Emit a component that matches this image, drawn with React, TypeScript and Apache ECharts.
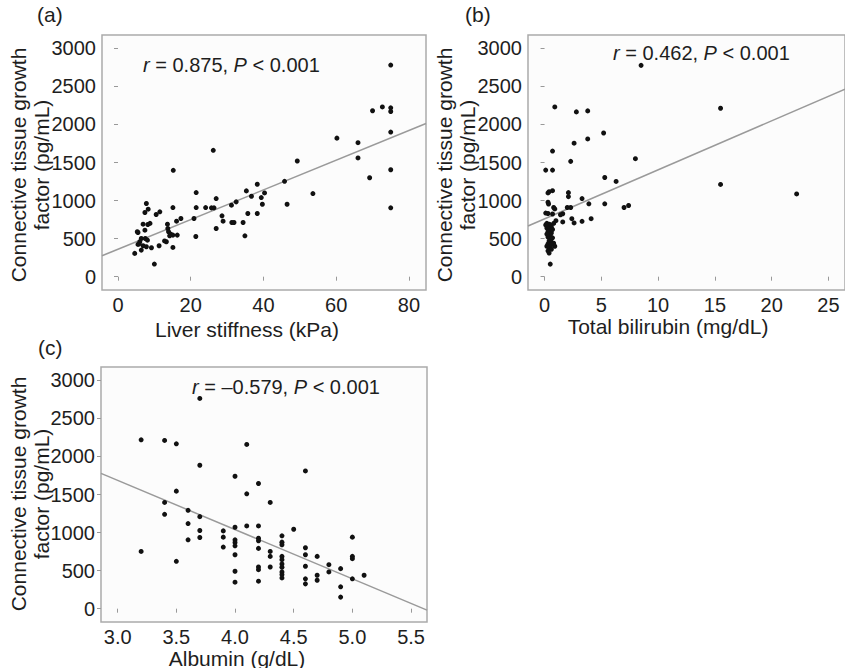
import React, { useEffect, useRef } from "react";
import * as echarts from "echarts";

// Panel (a): Liver stiffness (kPa) vs CTGF (pg/mL)
const liverStiffness: [number, number][] = [
  [75, 2780], [70, 2180], [72.7, 2230], [75, 2218], [75, 2170], [75, 1900], [60.2, 1820], [66, 1760],
  [66, 1560], [49.3, 1520], [69.2, 1300], [75, 1405], [75, 905], [26.2, 1660], [15.2, 1397], [45.8, 1253],
  [53.6, 1092], [46.5, 952], [38.3, 1214], [35.3, 1127], [36.7, 1057], [40.3, 1100], [39.4, 1039], [39.7, 952],
  [35.7, 830], [38.3, 830], [32.5, 983], [31.2, 939], [21.5, 1105], [21.5, 908], [24.1, 908], [25.7, 904],
  [26.4, 904], [27, 1026], [28.6, 799], [28.9, 729], [27, 633], [31.3, 712], [31.9, 712], [34.4, 712],
  [34.9, 537], [20.9, 764], [21.4, 528], [17.3, 764], [16.1, 729], [15.1, 908], [15.1, 384], [15.1, 546],
  [16.3, 546], [13.7, 633], [13.6, 690], [13.9, 590], [14.2, 537], [13.3, 459], [11.5, 852], [10.5, 817],
  [8.3, 887], [7.8, 961], [7.4, 843], [6.9, 690], [8.2, 686], [7.4, 611], [5.3, 590], [5.5, 580],
  [6.4, 502], [7.5, 502], [8.1, 480], [6.0, 459], [5.5, 424], [6.9, 406], [7.8, 393], [9.2, 380],
  [6.4, 349], [4.6, 306], [11.3, 406], [10, 166], [14.5, 560], [12.8, 470], [8.8, 700], [5.8, 430],
];

// Panel (b): Total bilirubin (mg/dL) vs CTGF
const totalBilirubin: [number, number][] = [
  [8.5, 2776], [15.5, 2213], [15.5, 1212], [22.2, 1087], [0.9, 2230], [2.8, 2165], [3.8, 2178], [2.6, 1754],
  [3.8, 1810], [5.2, 1888], [0.7, 1650], [2.3, 1515], [8.0, 1550], [0.1, 1400], [0.7, 1400], [5.3, 1303],
  [6.3, 1251], [0.4, 1117], [0.7, 1130], [0.3, 1100], [2.1, 1104], [2.1, 1052], [3.3, 1026], [5.3, 957],
  [3.9, 957], [7.0, 909], [7.4, 935], [2.0, 909], [2.3, 909], [1.6, 827], [1.4, 814], [2.4, 762],
  [2.6, 706], [3.3, 727], [4.1, 762], [1.6, 719], [1.0, 736], [0.8, 909], [0.9, 890], [0.3, 978],
  [0.35, 955], [0.1, 836], [0.3, 830], [0.7, 823], [0.2, 700], [0.4, 690], [0.5, 680], [0.3, 660],
  [0.6, 650], [0.2, 640], [0.4, 620], [0.5, 600], [0.3, 590], [0.6, 575], [0.4, 560], [0.5, 540],
  [0.3, 520], [0.7, 510], [0.5, 490], [0.4, 470], [0.6, 455], [0.8, 440], [0.3, 430], [0.5, 410],
  [0.9, 400], [0.2, 400], [0.4, 380], [0.6, 360], [0.3, 340], [0.4, 310], [0.8, 700], [0.1, 680],
  [0.7, 620], [0.5, 165], [0.6, 420], [0.2, 560],
];

// Panel (c): Albumin (g/dL) vs CTGF
const albumin: [number, number][] = [
  [3.2, 2218], [3.2, 752], [3.4, 2210], [3.5, 2166], [3.7, 2762], [3.7, 1884], [3.5, 1544], [3.4, 1396],
  [3.4, 1240], [3.6, 1292], [3.6, 1118], [3.6, 905], [3.5, 622], [3.7, 1209], [3.7, 1027], [3.7, 935],
  [3.9, 1022], [3.9, 940], [3.9, 809], [4.0, 1740], [4.0, 1070], [4.0, 905], [4.0, 870], [4.0, 826],
  [4.0, 709], [4.0, 492], [4.0, 348], [4.1, 2158], [4.1, 1509], [4.1, 1087], [4.2, 1644], [4.2, 1087],
  [4.2, 926], [4.2, 892], [4.2, 792], [4.2, 548], [4.2, 513], [4.2, 361], [4.3, 1396], [4.3, 752],
  [4.3, 687], [4.3, 548], [4.5, 1044], [4.4, 957], [4.4, 874], [4.4, 840], [4.4, 687], [4.4, 644],
  [4.4, 587], [4.4, 544], [4.4, 483], [4.4, 448], [4.4, 404], [4.6, 1810], [4.6, 800], [4.6, 709],
  [4.6, 557], [4.6, 392], [4.6, 326], [4.7, 687], [4.7, 439], [4.7, 374], [4.8, 578], [4.8, 483],
  [4.9, 526], [4.9, 287], [4.9, 152], [5.0, 940], [5.0, 687], [5.0, 657], [5.0, 392], [5.1, 439],
];

// Regression lines (intercept, slope)
const regA = { intercept: 360, slope: 19.5 };
const regB = { intercept: 759, slope: 64.4 };
const regC = { intercept: 3627, slope: -647 };

// Axis extents and tick labels
const xRangeA = [-4.4, 84.7];
const xRangeB = [-1.46, 26.46];
const xRangeC = [2.858, 5.636];
const yRange = [-175, 3175];
const xTicksA = [0, 20, 40, 60, 80];
const xTicksB = [0, 5, 10, 15, 20, 25];
const xTicksC = [3.0, 3.5, 4.0, 4.5, 5.0, 5.5];
const yTicks = [0, 500, 1000, 1500, 2000, 2500, 3000];

const panelLabels = ["(a)", "(b)", "(c)"];
const xTitles = ["Liver stiffness (kPa)", "Total bilirubin (mg/dL)", "Albumin (g/dL)"];
const yTitle = "Connective tissue growth\nfactor (pg/mL)";
const annotations = [
  "{i|r} = 0.875, {i|P} < 0.001",
  "{i|r} = 0.462, {i|P} < 0.001",
  "{i|r} = \u20130.579, {i|P} < 0.001",
];

const FONT = "'Liberation Sans', Arial, Helvetica, sans-serif";
const TXT = "#1e1e1e";

export default function App() {
  const ref = useRef<HTMLDivElement>(null);
  useEffect(() => {
    if (!ref.current) return;
    const chart = echarts.init(ref.current, undefined, { renderer: "svg" });

    const grids = [
      { left: 102, top: 35, width: 324, height: 255 },
      { left: 528, top: 35, width: 326, height: 255 },
      { left: 101, top: 367, width: 326, height: 255 },
    ];
    const xRanges = [xRangeA, xRangeB, xRangeC];
    const xTicks = [xTicksA, xTicksB, xTicksC];
    const regs = [regA, regB, regC];
    const datas = [liverStiffness, totalBilirubin, albumin];

    const xAxis = grids.map((_, i) => ({
      type: "value",
      gridIndex: i,
      min: xRanges[i][0],
      max: xRanges[i][1],
      axisLine: { show: false },
      splitLine: { show: false },
      axisTick: { show: true, length: 4, customValues: xTicks[i], lineStyle: { color: "#999", width: 1 } },
      axisLabel: {
        show: true,
        customValues: xTicks[i],
        margin: 7,
        fontSize: 20,
        lineHeight: 15,
        fontFamily: FONT,
        color: TXT,
        formatter: (v: number) => (i === 2 ? v.toFixed(1) : String(v)),
      },
    }));
    const yAxis = grids.map((_, i) => ({
      type: "value",
      gridIndex: i,
      min: yRange[0],
      max: yRange[1],
      axisLine: { show: false },
      splitLine: { show: false },
      axisTick: { show: true, length: 4, customValues: yTicks, lineStyle: { color: "#999", width: 1 } },
      axisLabel: {
        show: true,
        customValues: yTicks,
        margin: 6,
        fontSize: 20,
        lineHeight: 15,
        fontFamily: FONT,
        color: TXT,
        formatter: (v: number) => String(v),
      },
    }));

    const series: any[] = [];
    datas.forEach((d, i) => {
      series.push({
        type: "line",
        xAxisIndex: i,
        yAxisIndex: i,
        showSymbol: false,
        silent: true,
        clip: true,
        data: xRanges[i].map((x) => [x, regs[i].intercept + regs[i].slope * x]),
        lineStyle: { color: "#9a9a9a", width: 1.5 },
        z: 1,
      });
      series.push({
        type: "scatter",
        xAxisIndex: i,
        yAxisIndex: i,
        data: d,
        symbolSize: 5,
        itemStyle: { color: "#111111", opacity: 1 },
        z: 3,
      });
    });

    const titleFont = { fontSize: 21, fontFamily: FONT, fill: TXT };
    const graphic: any[] = [
      // panel labels
      { type: "text", left: 37, top: 4, style: { text: panelLabels[0], ...titleFont } },
      { type: "text", left: 465, top: 4, style: { text: panelLabels[1], ...titleFont } },
      { type: "text", left: 38, top: 337, style: { text: panelLabels[2], ...titleFont } },
      // x titles
      { type: "text", x: 247, y: 329, style: { text: xTitles[0], align: "center", verticalAlign: "middle", lineHeight: 17, ...titleFont } },
      { type: "text", x: 668, y: 326, style: { text: xTitles[1], align: "center", verticalAlign: "middle", lineHeight: 17, ...titleFont } },
      { type: "text", x: 237, y: 658, style: { text: xTitles[2], align: "center", verticalAlign: "middle", lineHeight: 17, ...titleFont } },
      // y titles
      ...[
        [30, 165],
        [456, 165],
        [30, 494],
      ].map(([x, y]) => ({
        type: "text",
        x,
        y,
        rotation: Math.PI / 2,
        z: 10,
        style: { text: yTitle, align: "center", verticalAlign: "middle", lineHeight: 23, ...titleFont },
      })),
      // annotations
      ...[
        [143, 65],
        [613, 53],
        [192, 387],
      ].map(([x, y], i) => ({
        type: "text",
        x,
        y,
        z: 10,
        style: {
          text: annotations[i],
          verticalAlign: "middle",
          ...titleFont,
          fontSize: 20,
          rich: { i: { fontStyle: "italic", fontSize: 20, fontFamily: FONT, fill: TXT } },
        },
      })),
    ];

    chart.setOption({
      animation: false,
      backgroundColor: "#ffffff",
      grid: grids.map((g) => ({
        ...g,
        show: true,
        borderColor: "#aaaaaa",
        borderWidth: 1.5,
        backgroundColor: "#fcfcfc",
        containLabel: false,
      })),
      xAxis,
      yAxis,
      series,
      graphic,
    });
    return () => chart.dispose();
  }, []);
  return (
    <div
      ref={ref}
      style={{ width: 845, height: 668, position: "absolute", left: 0, top: 0 }}
    />
  );
}
